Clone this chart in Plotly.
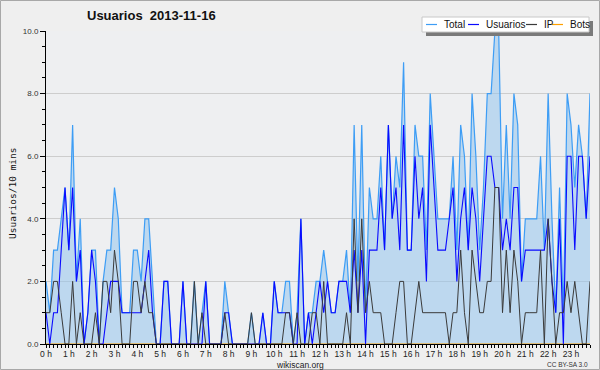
import plotly.graph_objects as go

# 10-minute slots over the day (index 0..143)
usuarios = [1,0,1,1,3,5,3,5,2,3, 0,1,3,2,0,0,1,2,2,2, 1,1,1,1,1,1,2,3,1,0,
            0,2,2,0,0,0,2,0,0,0, 0,0,2,0,0,0,0,1,1,0, 0,0,0,0,0,0,0,1,0,0,
            2,1,1,1,1,0,0,4,0,1, 0,1,2,1,2,1,1,2,2,2, 1,3,1,3,0,3,3,3,5,3,
            7,4,5,3,7,3,3,6,4,5, 2,7,5,3,3,3,4,5,2,4, 5,3,5,4,2,4,6,6,5,5,
            3,4,3,5,5,2,3,3,3,3, 3,3,4,2,1,4,0,6,6,3, 6,6,4,6]
ip = [1,1,2,2,1,0,0,2,0,1, 0,0,0,1,0,2,2,1,3,2, 0,0,0,2,2,1,2,1,1,0,
      0,0,0,0,0,0,0,0,0,2, 0,1,0,0,0,0,0,1,0,0, 0,0,0,0,1,0,0,0,0,0,
      0,0,0,1,1,0,1,0,0,0, 1,1,0,2,0,0,0,0,0,1, 0,4,1,4,1,2,1,1,1,0,
      0,0,1,2,2,0,0,1,2,1, 1,1,1,1,1,1,0,1,1,3, 1,0,3,2,1,1,2,2,5,5,
      1,3,1,3,2,0,1,1,1,1, 3,0,4,2,0,1,1,2,1,2, 1,0,0,2]
total = [2,1,3,3,4,5,3,7,2,4, 0,1,3,3,0,2,3,3,5,4, 1,1,1,3,3,2,4,4,2,0,
         0,2,2,0,0,0,2,0,0,2, 0,1,2,0,0,0,0,2,1,0, 0,0,0,0,1,0,0,1,0,0,
         2,1,1,2,2,0,1,4,0,1, 1,2,2,3,2,1,1,2,2,3, 1,7,2,7,1,5,4,4,6,3,
         7,4,6,5,9,3,3,7,6,6, 3,8,6,4,4,4,4,6,3,7, 6,3,8,6,3,5,8,8,10,10,
         4,7,4,8,7,2,4,4,4,4, 6,3,8,4,1,5,1,8,7,5, 7,6,4,8]
bots = [0] * 144
slots = list(range(144))
hour_labels = [f"{h} h" for h in range(24)]
hour_slots = [h * 6 for h in range(24)]
y_ticks = [0, 2, 4, 6, 8, 10]
y_labels = ["0.0", "2.0", "4.0", "6.0", "8.0", "10.0"]

FONT = "Liberation Sans, Arial, sans-serif"
W, H = 600, 370
L, R, T, B = 46, 10, 31, 26
PW, PH = W - L - R, H - T - B

def px(x):  # pixel -> paper x
    return (x - L) / PW

def py(y):  # pixel -> paper y
    return (H - B - y) / PH

fig = go.Figure()
fig.add_trace(go.Scatter(x=slots, y=total, name="Total", mode="lines",
                         line=dict(color="#3d9df5", width=1.2),
                         fill="tozeroy", fillcolor="rgba(150,196,236,0.55)"))
fig.add_trace(go.Scatter(x=slots, y=bots, name="Bots", mode="lines",
                         line=dict(color="#ffa000", width=1)))
fig.add_trace(go.Scatter(x=slots, y=usuarios, name="Usuarios", mode="lines",
                         line=dict(color="#0a0aff", width=1.1)))
fig.add_trace(go.Scatter(x=slots, y=ip, name="IP", mode="lines",
                         line=dict(color="#3a3a3a", width=1)))

shapes = [
    dict(type="rect", xref="paper", yref="paper", x0=px(0.5), x1=px(599.5),
         y0=py(369.5), y1=py(0.5), line=dict(color="#a8a8a8", width=1),
         fillcolor="rgba(0,0,0,0)", layer="below"),
    dict(type="rect", xref="paper", yref="paper", x0=px(426), x1=px(593),
         y0=py(36), y1=py(21), line=dict(width=0), fillcolor="#7a7a7a", layer="above"),
    dict(type="rect", xref="paper", yref="paper", x0=px(422), x1=px(589),
         y0=py(32), y1=py(17), line=dict(color="#c8c8c8", width=1),
         fillcolor="#ffffff", layer="above"),
]
leg_items = [("Total", "#3d9df5", 426, 442), ("Usuarios", "#0a0aff", 468, 484),
             ("IP", "#3a3a3a", 526, 542), ("Bots", "#ffa000", 552, 568)]
annotations = []
for name, col, lx, tx in leg_items:
    shapes.append(dict(type="line", xref="paper", yref="paper", x0=px(lx), x1=px(lx + 11),
                       y0=py(24.5), y1=py(24.5), line=dict(color=col, width=1.2), layer="above"))
    annotations.append(dict(text=name, xref="paper", yref="paper", x=px(tx), y=py(24.5),
                            xanchor="left", yanchor="middle", showarrow=False,
                            font=dict(family=FONT, size=10, color="#111")))

annotations += [
    dict(text="<b>Usuarios  2013-11-16</b>", xref="paper", yref="paper", x=px(151), y=py(16),
         xanchor="center", yanchor="middle", showarrow=False,
         font=dict(family=FONT, size=13, color="#111")),
    dict(text="Usuarios/10 mins", xref="paper", yref="paper", x=px(12), y=py(193),
         xanchor="center", yanchor="middle", textangle=-90, showarrow=False,
         font=dict(family="DejaVu Sans Mono, monospace", size=9.5, color="#111")),
    dict(text="wikiscan.org", xref="paper", yref="paper", x=px(300), y=py(365),
         xanchor="center", yanchor="middle", showarrow=False,
         font=dict(family=FONT, size=8.5, color="#222")),
    dict(text="CC BY-SA 3.0", xref="paper", yref="paper", x=px(590), y=py(364.5),
         xanchor="right", yanchor="middle", showarrow=False,
         font=dict(family=FONT, size=6.5, color="#333")),
]

fig.update_layout(
    width=W, height=H,
    margin=dict(l=L, r=R, t=T, b=B),
    paper_bgcolor="#efefef", plot_bgcolor="#eeeff1",
    showlegend=False,
    shapes=shapes, annotations=annotations,
    xaxis=dict(range=[0, 143], tickmode="array", tickvals=hour_slots, ticktext=hour_labels,
               ticks="outside", ticklen=2, tickcolor="#000", tickwidth=1,
               showline=True, linecolor="#000", linewidth=1, showgrid=False, zeroline=False,
               tickfont=dict(family=FONT, size=8.5, color="#222"),
               minor=dict(tickmode="linear", tick0=0, dtick=1, ticks="outside", ticklen=3,
                          tickcolor="#000", showgrid=False)),
    yaxis=dict(range=[0, 10], tickmode="array", tickvals=y_ticks, ticktext=y_labels,
               ticks="outside", ticklen=5, tickcolor="#000", tickwidth=1,
               showline=True, linecolor="#000", linewidth=1, zeroline=False,
               showgrid=True, gridcolor="#cdcdcd", gridwidth=1,
               tickfont=dict(family=FONT, size=8, color="#333"),
               minor=dict(tickmode="linear", tick0=0, dtick=0.5, ticks="outside", ticklen=3,
                          tickcolor="#000", showgrid=False)),
)

fig.write_html("out.html", config={"displayModeBar": False},
               post_script="document.body.style.margin='0';document.body.style.overflow='hidden';")
